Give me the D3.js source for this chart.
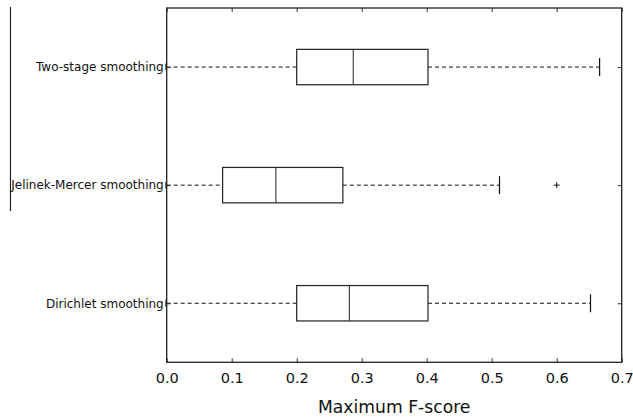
<!DOCTYPE html>
<html><head><meta charset="utf-8">
<script src="https://cdn.jsdelivr.net/npm/d3@7"></script>
<style>body{margin:0;background:#fff}svg{display:block}text{font-family:"DejaVu Sans",sans-serif}</style>
</head><body>
<svg id="c" width="633" height="418"></svg>
<script>
const categories = ["Dirichlet smoothing", "Jelinek-Mercer smoothing", "Two-stage smoothing"];
const whiskerLow = [0.0, 0.0, 0.0];
const q1 = [0.200, 0.086, 0.200];
const median = [0.281, 0.168, 0.287];
const q3 = [0.402, 0.271, 0.402];
const whiskerHigh = [0.652, 0.512, 0.666];
const outliers = [[], [0.600], []];
const xTicks = [0.0, 0.1, 0.2, 0.3, 0.4, 0.5, 0.6, 0.7];

const svg = d3.select("#c");
const L = 166.7, R = 621.7, T = 8, B = 362.3;
const x = d3.scaleLinear().domain([0, 0.7]).range([L, R]);
const y = d3.scaleLinear().domain([0.5, 3.5]).range([B, T]);
const half = 17.7, capHalf = 9;

// stray left line
svg.append("line").attr("x1", 10.5).attr("x2", 10.5).attr("y1", 7).attr("y2", 211)
  .attr("stroke", "#222").attr("stroke-width", 1.2);

const g = svg.append("g");
categories.forEach((c, i) => {
  const cy = y(i + 1);
  g.append("line").attr("x1", x(whiskerLow[i])).attr("x2", x(q1[i])).attr("y1", cy).attr("y2", cy)
    .attr("stroke", "#111").attr("stroke-dasharray", "4,3");
  g.append("line").attr("x1", x(q3[i])).attr("x2", x(whiskerHigh[i])).attr("y1", cy).attr("y2", cy)
    .attr("stroke", "#111").attr("stroke-dasharray", "4,3");
  g.append("line").attr("x1", x(whiskerHigh[i])).attr("x2", x(whiskerHigh[i])).attr("y1", cy - capHalf).attr("y2", cy + capHalf)
    .attr("stroke", "#111").attr("stroke-width", 1.2);
  g.append("line").attr("x1", x(whiskerLow[i]) - 0.5).attr("x2", x(whiskerLow[i]) - 0.5).attr("y1", cy - 3.5).attr("y2", cy + 3.5)
    .attr("stroke", "#111").attr("stroke-width", 1.6);
  g.append("rect").attr("x", x(q1[i])).attr("y", cy - half).attr("width", x(q3[i]) - x(q1[i])).attr("height", 2 * half)
    .attr("fill", "none").attr("stroke", "#222").attr("stroke-width", 1.2);
  g.append("line").attr("x1", x(median[i])).attr("x2", x(median[i])).attr("y1", cy - half).attr("y2", cy + half)
    .attr("stroke", "#333").attr("stroke-width", 1.1);
  outliers[i].forEach(o => {
    g.append("path").attr("d", `M${x(o) - 3},${cy}H${x(o) + 3}M${x(o)},${cy - 3}V${cy + 3}`)
      .attr("stroke", "#111").attr("stroke-width", 1);
  });
});

const xb = svg.append("g").attr("transform", `translate(0,${B})`)
  .call(d3.axisBottom(x).tickValues(xTicks).tickFormat(d3.format(".1f")).tickSizeInner(-4).tickSizeOuter(0).tickPadding(10));
xb.select(".domain").remove();
xb.selectAll("text").attr("font-size", 14.5).attr("fill", "#111").attr("font-family", "DejaVu Sans");
xb.selectAll("line").attr("stroke", "#333");
const xt = svg.append("g").attr("transform", `translate(0,${T})`)
  .call(d3.axisTop(x).tickValues(xTicks).tickFormat("").tickSizeInner(-4).tickSizeOuter(0));
xt.select(".domain").remove();
xt.selectAll("line").attr("stroke", "#333");

const yl = svg.append("g").attr("transform", `translate(${L},0)`)
  .call(d3.axisLeft(y).tickValues([1, 2, 3]).tickFormat((d) => categories[d - 1]).tickSizeInner(-4).tickSizeOuter(0).tickPadding(3));
yl.select(".domain").remove();
yl.selectAll("text").attr("font-size", 12).attr("fill", "#111").attr("font-family", "DejaVu Sans");
yl.selectAll("line").attr("stroke", "#333");
const yr = svg.append("g").attr("transform", `translate(${R},0)`)
  .call(d3.axisRight(y).tickValues([1, 2, 3]).tickFormat("").tickSizeInner(-4).tickSizeOuter(0));
yr.select(".domain").remove();
yr.selectAll("line").attr("stroke", "#333");

svg.append("rect").attr("x", L).attr("y", T).attr("width", R - L).attr("height", B - T)
  .attr("fill", "none").attr("stroke", "#222").attr("stroke-width", 1.3);

svg.append("text").attr("x", (L + R) / 2).attr("y", 413).attr("text-anchor", "middle")
  .attr("font-size", 17.2).attr("fill", "#111").text("Maximum F-score");
</script>
</body></html>
